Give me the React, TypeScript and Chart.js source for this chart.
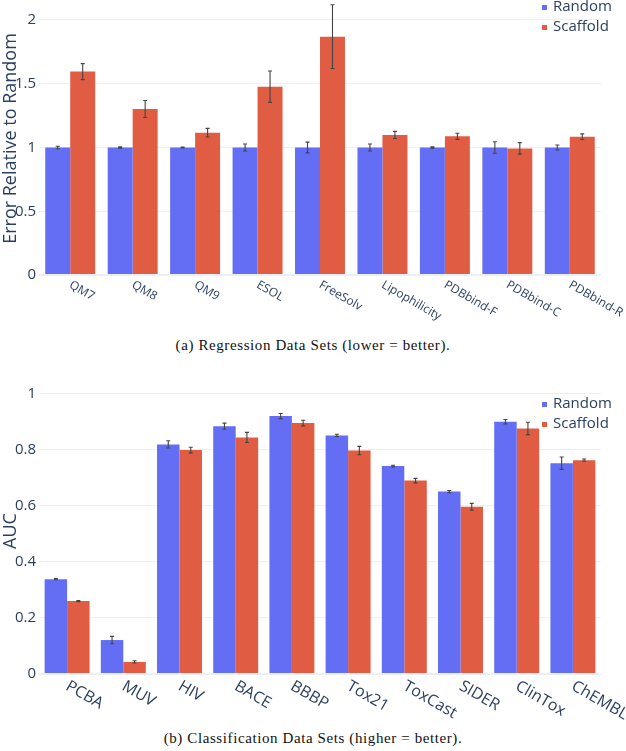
import React, { useEffect, useRef } from 'react';
import { Chart, registerables } from 'chart.js';

Chart.register(...registerables);

// ---------- Data: (a) Regression ----------
const regCategories = ['QM7', 'QM8', 'QM9', 'ESOL', 'FreeSolv', 'Lipophilicity', 'PDBbind-F', 'PDBbind-C', 'PDBbind-R'];
const regRandom = [1, 1, 1, 1, 1, 1, 1, 1, 1];
const regRandomErr = [0.01, 0.005, 0.003, 0.027, 0.042, 0.027, 0.005, 0.045, 0.02];
const regScaffold = [1.595, 1.302, 1.116, 1.477, 1.869, 1.098, 1.088, 0.993, 1.085];
const regScaffoldErr = [0.063, 0.067, 0.034, 0.123, 0.25, 0.028, 0.024, 0.045, 0.022];
const regTicks = [0, 0.5, 1, 1.5, 2];

// ---------- Data: (b) Classification ----------
const clsCategories = ['PCBA', 'MUV', 'HIV', 'BACE', 'BBBP', 'Tox21', 'ToxCast', 'SIDER', 'ClinTox', 'ChEMBL'];
const clsRandom = [0.338, 0.121, 0.818, 0.883, 0.919, 0.85, 0.741, 0.65, 0.899, 0.751];
const clsRandomErr = [0.002, 0.013, 0.013, 0.011, 0.009, 0.004, 0.003, 0.004, 0.008, 0.022];
const clsScaffold = [0.26, 0.043, 0.798, 0.843, 0.894, 0.796, 0.689, 0.596, 0.875, 0.762];
const clsScaffoldErr = [0.002, 0.004, 0.01, 0.018, 0.01, 0.015, 0.008, 0.012, 0.022, 0.004];
const clsTicks = [0, 0.2, 0.4, 0.6, 0.8, 1];

const seriesNames = ['Random', 'Scaffold'];
const seriesColors = ['#636ef4', '#e05d44'];

const TEXT = '#2a3f5f';
const GRID = '#ebf0f8';
const FONT = "'Open Sans', sans-serif";

type PanelProps = {
  categories: string[];
  random: number[];
  randomErr: number[];
  scaffold: number[];
  scaffoldErr: number[];
  yTicks: number[];
  yMax: number;
  yTitle: string;
  width: number;
  height: number;
  padTop: number;
  padRight: number;
  yAxisWidth: number;
  xAxisHeight: number;
  labelSize: number;
  labelOffset: number;
  legendX: number;
  legendY: number[];
};

function BarPanel(p: PanelProps) {
  const ref = useRef<HTMLCanvasElement | null>(null);

  useEffect(() => {
    if (!ref.current) return;
    const overlay = {
      id: 'overlay',
      afterDatasetsDraw(chart: any) {
        const ctx = chart.ctx;
        const yScale = chart.scales.y;
        chart.data.datasets.forEach((ds: any, i: number) => {
          const meta = chart.getDatasetMeta(i);
          meta.data.forEach((bar: any, j: number) => {
            const v = ds.data[j];
            const e = ds.errors[j];
            const yTop = yScale.getPixelForValue(v + e);
            const yBot = yScale.getPixelForValue(v - e);
            ctx.save();
            ctx.strokeStyle = '#444';
            ctx.lineWidth = 1.1;
            ctx.beginPath();
            ctx.moveTo(bar.x, yTop);
            ctx.lineTo(bar.x, yBot);
            ctx.moveTo(bar.x - 2, yTop);
            ctx.lineTo(bar.x + 2, yTop);
            ctx.moveTo(bar.x - 2, yBot);
            ctx.lineTo(bar.x + 2, yBot);
            ctx.stroke();
            ctx.restore();
          });
        });
      },
      afterDraw(chart: any) {
        const ctx = chart.ctx;
        const xScale = chart.scales.x;
        const bottom = chart.chartArea.bottom;
        ctx.save();
        ctx.fillStyle = TEXT;
        ctx.font = `${p.labelSize}px ${FONT}`;
        ctx.textAlign = 'left';
        ctx.textBaseline = 'middle';
        p.categories.forEach((c, i) => {
          const x = xScale.getPixelForTick(i);
          ctx.save();
          ctx.translate(x, bottom + p.labelOffset);
          ctx.rotate(Math.PI / 6);
          ctx.fillText(c, 0, 0);
          ctx.restore();
        });
        // legend
        ctx.font = `15px ${FONT}`;
        seriesNames.forEach((n, i) => {
          const y = p.legendY[i];
          ctx.fillStyle = seriesColors[i];
          ctx.fillRect(p.legendX - 2, y - 2, 5, 5);
          ctx.fillStyle = TEXT;
          ctx.fillText(n, p.legendX + 9, y);
        });
        ctx.restore();
      },
    };

    const chart = new Chart(ref.current, {
      type: 'bar',
      data: {
        labels: p.categories,
        datasets: [
          {
            label: seriesNames[0],
            data: p.random,
            errors: p.randomErr,
            backgroundColor: seriesColors[0],
            borderWidth: 0,
          } as any,
          {
            label: seriesNames[1],
            data: p.scaffold,
            errors: p.scaffoldErr,
            backgroundColor: seriesColors[1],
            borderWidth: 0,
          } as any,
        ],
      },
      options: {
        animation: false,
        responsive: false,
        devicePixelRatio: 1,
        layout: { padding: { top: p.padTop, right: p.padRight, left: 0, bottom: 0 } },
        datasets: { bar: { categoryPercentage: 0.8, barPercentage: 1.0 } },
        plugins: {
          legend: { display: false },
          tooltip: { enabled: false },
        },
        scales: {
          x: {
            type: 'category',
            grid: { display: false },
            border: { display: false },
            ticks: { display: false },
            afterFit: (s: any) => {
              s.height = p.xAxisHeight;
              s.paddingLeft = 0;
              s.paddingRight = 0;
            },
          },
          y: {
            min: 0,
            max: p.yMax,
            afterBuildTicks: (s: any) => {
              s.ticks = p.yTicks.map((v) => ({ value: v }));
            },
            afterFit: (s: any) => {
              s.width = p.yAxisWidth;
              s.paddingTop = 0;
              s.paddingBottom = 0;
            },
            border: { display: false },
            grid: {
              color: GRID,
              drawTicks: false,
              lineWidth: (c: any) => (c.tick && c.tick.value === 0 ? 2 : 1),
            },
            ticks: {
              padding: 3,
              color: TEXT,
              font: { family: FONT, size: 15 },
              callback: (v: any) => String(v),
            },
            title: {
              display: true,
              text: p.yTitle,
              color: TEXT,
              font: { family: FONT, size: 18 },
              padding: 0,
            },
          },
        },
      } as any,
      plugins: [overlay],
    });
    return () => chart.destroy();
  }, []);

  return (
    <canvas
      ref={ref}
      width={p.width}
      height={p.height}
      style={{ width: p.width, height: p.height, display: 'block' }}
    />
  );
}

const captionStyle: React.CSSProperties = {
  position: 'absolute',
  left: 0,
  width: 626,
  height: 18,
  lineHeight: '18px',
  textAlign: 'center',
  fontFamily: "'Liberation Serif', 'Times New Roman', serif",
  fontSize: 15,
  letterSpacing: '0.6px',
  color: '#111',
};

export default function App() {
  return (
    <div style={{ position: 'absolute', left: 0, top: 0, width: 626, height: 751, background: '#fff', overflow: 'hidden' }}>
      <div style={{ position: 'absolute', left: 0, top: 0 }}>
        <BarPanel
          categories={regCategories}
          random={regRandom}
          randomErr={regRandomErr}
          scaffold={regScaffold}
          scaffoldErr={regScaffoldErr}
          yTicks={regTicks}
          yMax={2.141}
          yTitle="Error Relative to Random"
          width={626}
          height={330}
          padTop={2}
          padRight={25}
          yAxisWidth={39}
          xAxisHeight={55}
          labelSize={12}
          labelOffset={9}
          legendX={544}
          legendY={[7, 27]}
        />
      </div>
      <div style={{ ...captionStyle, top: 336 }}>(a) Regression Data Sets (lower = better).</div>
      <div style={{ position: 'absolute', left: 0, top: 380 }}>
        <BarPanel
          categories={clsCategories}
          random={clsRandom}
          randomErr={clsRandomErr}
          scaffold={clsScaffold}
          scaffoldErr={clsScaffoldErr}
          yTicks={clsTicks}
          yMax={1.019}
          yTitle="AUC"
          width={626}
          height={345}
          padTop={8}
          padRight={25}
          yAxisWidth={39}
          xAxisHeight={51}
          labelSize={16}
          labelOffset={11}
          legendX={544}
          legendY={[24, 44]}
        />
      </div>
      <div style={{ ...captionStyle, top: 729 }}>(b) Classification Data Sets (higher = better).</div>
    </div>
  );
}
